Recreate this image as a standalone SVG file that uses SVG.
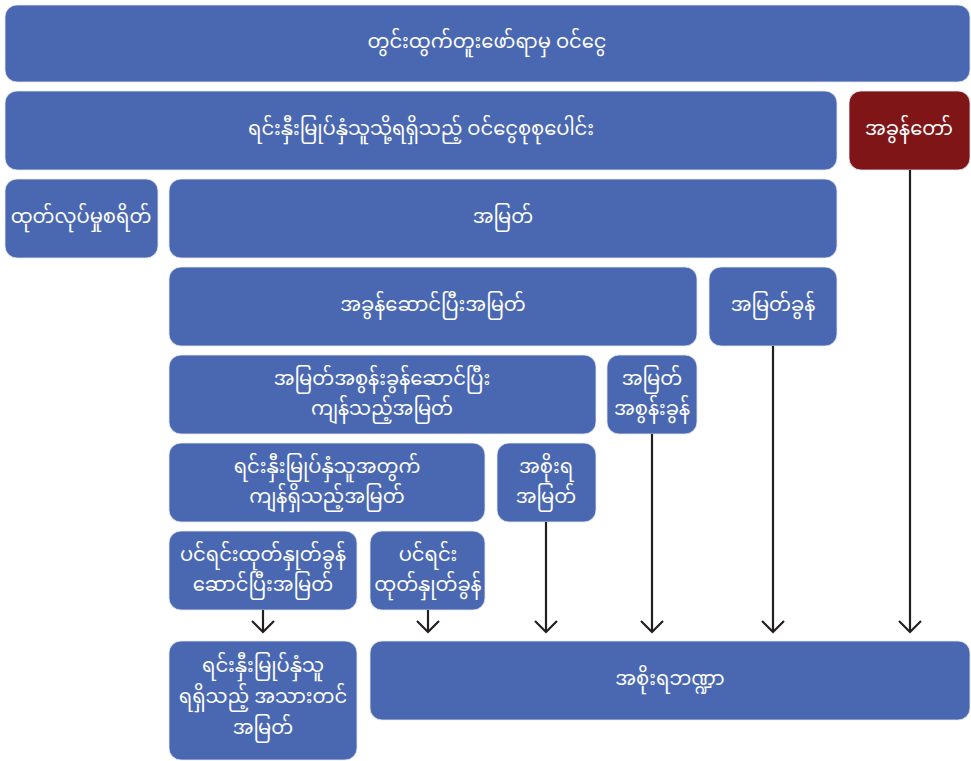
<svg xmlns="http://www.w3.org/2000/svg" width="971" height="761" viewBox="0 0 971 761">
<defs>
<style>
.b{fill:#4a68b1;stroke:#e6eaf3;stroke-width:0.8}
.r{fill:#7f1517;stroke:#e6eaf3;stroke-width:0.8}
text{font-family:"Noto Sans Myanmar","Padauk","Myanmar Text","Noto Sans",sans-serif;font-size:19.5px;fill:#ffffff;text-anchor:middle;dominant-baseline:central}
.c{stroke:#231f20;stroke-width:2.2;fill:none}
</style>
<marker id="ah" markerWidth="14" markerHeight="24" refX="12" refY="12" orient="auto" markerUnits="userSpaceOnUse" viewBox="0 0 14 24">
<path d="M1,1 L12,12 L1,23" fill="none" stroke="#231f20" stroke-width="2.2"/>
</marker>
</defs>
<g id="n1"><rect class="b" x="5" y="5" width="965" height="77" rx="12"/><text x="487" y="43">တွင်းထွက်တူးဖော်ရာမှ ဝင်ငွေ</text></g>
<g id="n2"><rect class="b" x="5" y="91" width="832" height="79" rx="12"/><text x="421" y="130">ရင်းနှီးမြုပ်နှံသူသို့ရရှိသည့် ဝင်ငွေစုစုပေါင်း</text></g>
<g id="n3"><rect class="r" x="849" y="91" width="121" height="79" rx="12"/><text x="909" y="130">အခွန်တော်</text></g>
<g id="n4"><rect class="b" x="5" y="179" width="153" height="79" rx="12"/><text x="81" y="218">ထုတ်လုပ်မှုစရိတ်</text></g>
<g id="n5"><rect class="b" x="169" y="179" width="668" height="79" rx="12"/><text x="503" y="218">အမြတ်</text></g>
<g id="n6"><rect class="b" x="169" y="267" width="528" height="79" rx="12"/><text x="433" y="306">အခွန်ဆောင်ပြီးအမြတ်</text></g>
<g id="n7"><rect class="b" x="709" y="267" width="128" height="79" rx="12"/><text x="773" y="306">အမြတ်ခွန်</text></g>
<g id="n8"><rect class="b" x="169" y="355" width="427" height="79" rx="12"/><text x="382" y="380">အမြတ်အစွန်းခွန်ဆောင်ပြီး</text><text x="382" y="410">ကျန်သည့်အမြတ်</text></g>
<g id="n9"><rect class="b" x="607" y="355" width="90" height="79" rx="12"/><text x="652" y="380">အမြတ်</text><text x="652" y="410">အစွန်းခွန်</text></g>
<g id="n10"><rect class="b" x="169" y="443" width="316" height="79" rx="12"/><text x="327" y="468">ရင်းနှီးမြုပ်နှံသူအတွက်</text><text x="327" y="498">ကျန်ရှိသည့်အမြတ်</text></g>
<g id="n11"><rect class="b" x="497" y="443" width="99" height="79" rx="12"/><text x="546" y="468">အစိုးရ</text><text x="546" y="498">အမြတ်</text></g>
<g id="n12"><rect class="b" x="169" y="531" width="188" height="79" rx="12"/><text x="263" y="556">ပင်ရင်းထုတ်နှုတ်ခွန်</text><text x="263" y="586">ဆောင်ပြီးအမြတ်</text></g>
<g id="n13"><rect class="b" x="370" y="531" width="115" height="79" rx="12"/><text x="428" y="556">ပင်ရင်း</text><text x="428" y="586">ထုတ်နှုတ်ခွန်</text></g>
<g id="n14"><rect class="b" x="169" y="641" width="188" height="119" rx="12"/><text x="263" y="667">ရင်းနှီးမြုပ်နှံသူ</text><text x="263" y="698">ရရှိသည့် အသားတင်</text><text x="263" y="729">အမြတ်</text></g>
<g id="n15"><rect class="b" x="370" y="641" width="600" height="79" rx="12"/><text x="670" y="680">အစိုးရဘဏ္ဍာ</text></g>
<g id="connectors">
<line class="c" x1="263" y1="610" x2="263" y2="632" marker-end="url(#ah)"/>
<line class="c" x1="428" y1="610" x2="428" y2="632" marker-end="url(#ah)"/>
<line class="c" x1="546" y1="522" x2="546" y2="632" marker-end="url(#ah)"/>
<line class="c" x1="652" y1="434" x2="652" y2="632" marker-end="url(#ah)"/>
<line class="c" x1="773" y1="346" x2="773" y2="632" marker-end="url(#ah)"/>
<line class="c" x1="910" y1="170" x2="910" y2="632" marker-end="url(#ah)"/>
</g>
</svg>
